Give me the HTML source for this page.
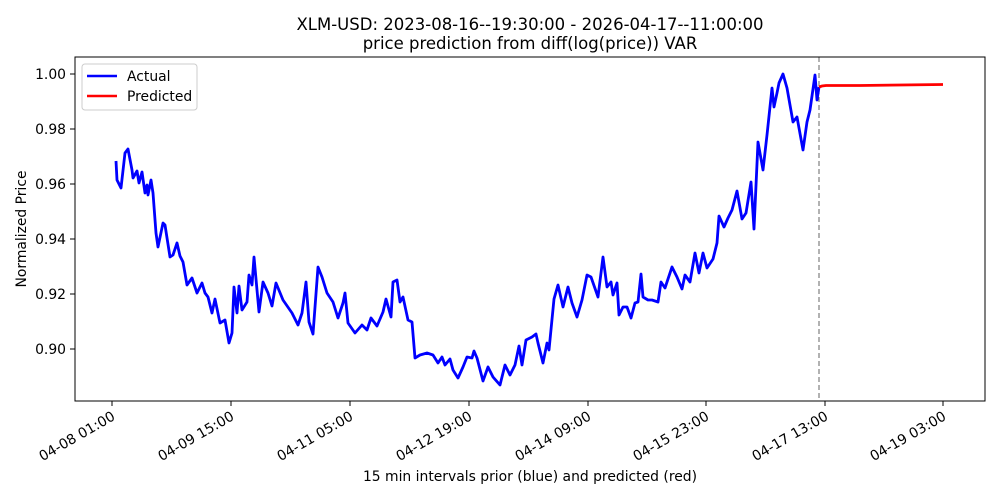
<!DOCTYPE html>
<html><head><meta charset="utf-8"><style>body{margin:0;background:#fff}svg{display:block}text{font-family:"DejaVu Sans","Liberation Sans",sans-serif;fill:#000}</style></head>
<body>
<svg width="1000" height="500" viewBox="0 0 1000 500" xmlns="http://www.w3.org/2000/svg">
<rect width="1000" height="500" fill="#fff"/>
<text x="530" y="30" font-size="16.5" text-anchor="middle">XLM-USD: 2023-08-16--19:30:00 - 2026-04-17--11:00:00</text>
<text x="530" y="49" font-size="16.5" text-anchor="middle">price prediction from diff(log(price)) VAR</text>
<g stroke="#000" stroke-width="1">
<line x1="70" y1="74" x2="75" y2="74"/><line x1="70" y1="129" x2="75" y2="129"/><line x1="70" y1="184" x2="75" y2="184"/><line x1="70" y1="239" x2="75" y2="239"/><line x1="70" y1="294" x2="75" y2="294"/><line x1="70" y1="349" x2="75" y2="349"/>
<line x1="112" y1="401" x2="112" y2="406"/><line x1="231" y1="401" x2="231" y2="406"/><line x1="350" y1="401" x2="350" y2="406"/><line x1="469" y1="401" x2="469" y2="406"/><line x1="588" y1="401" x2="588" y2="406"/><line x1="706" y1="401" x2="706" y2="406"/><line x1="825" y1="401" x2="825" y2="406"/><line x1="943" y1="401" x2="943" y2="406"/>
</g>
<g font-size="13.9" text-anchor="end">
<text x="66" y="79">1.00</text><text x="66" y="134">0.98</text><text x="66" y="189">0.96</text><text x="66" y="244">0.94</text><text x="66" y="299">0.92</text><text x="66" y="354">0.90</text>
</g>
<g font-size="13.9" text-anchor="end">
<text transform="translate(116,419) rotate(-30)">04-08 01:00</text>
<text transform="translate(235,419) rotate(-30)">04-09 15:00</text>
<text transform="translate(354,419) rotate(-30)">04-11 05:00</text>
<text transform="translate(473,419) rotate(-30)">04-12 19:00</text>
<text transform="translate(592,419) rotate(-30)">04-14 09:00</text>
<text transform="translate(710,419) rotate(-30)">04-15 23:00</text>
<text transform="translate(829,419) rotate(-30)">04-17 13:00</text>
<text transform="translate(947,419) rotate(-30)">04-19 03:00</text>
</g>
<text x="530" y="481" font-size="13.9" text-anchor="middle">15 min intervals prior (blue) and predicted (red)</text>
<text transform="translate(26,229) rotate(-90)" font-size="13.9" text-anchor="middle">Normalized Price</text>
<line x1="819" y1="57" x2="819" y2="401" stroke="#666" stroke-width="1" stroke-dasharray="5,3"/>
<polyline fill="none" stroke="#0000ff" stroke-width="2.8" stroke-linejoin="round" points="116,161 117,180 121,188 125,153 128,149 132,170 133,178 137,171 139,183 142,172 145,193 147,185 148,195 151,180 153,193 156,233 158,247 163,223 165,225 170,257 173,255 177,243 180,256 183,262 187,285 192,278 197,293 202,283 205,293 208,297 212,313 215,299 220,323 225,320 229,343 232,333 234,287 237,313 239,286 242,310 247,302 249,275 252,285 254,257 257,290 259,312 263,282 268,293 272,306 276,283 283,300 292,313 298,325 302,313 306,282 309,322 313,334 318,267 322,277 327,293 333,302 338,318 343,303 345,293 348,323 355,333 362,325 367,330 371,318 377,326 383,312 386,299 391,317 393,282 397,280 400,302 403,297 408,320 412,322 415,358 420,355 427,353 433,355 438,363 442,357 445,365 450,359 453,370 458,378 463,367 467,357 472,358 474,351 477,358 483,381 488,367 493,377 500,385 505,365 510,375 515,365 519,346 522,365 526,340 532,337 536,334 538,343 543,363 547,343 549,350 554,299 558,285 563,307 568,287 572,303 577,317 582,300 587,275 591,277 598,297 603,257 607,287 611,282 613,295 617,283 619,315 623,307 627,307 631,318 635,303 638,302 641,274 643,297 648,300 652,300 658,302 661,282 665,288 672,267 677,277 682,289 685,275 690,282 695,253 699,273 703,253 707,268 713,259 717,243 719,216 724,227 728,218 732,210 737,191 742,219 746,213 751,182 754,229 758,142 763,170 767,135 772,88 774,107 777,93 779,83 783,74 787,88 793,122 797,117 803,150 807,122 810,110 815,75 817,100 819,87"/>
<polyline fill="none" stroke="#ff0000" stroke-width="2.8" points="819,87 822,86 826,85.5 860,85.5 900,85 943,84.5"/>
<rect x="75" y="57" width="910" height="344" fill="none" stroke="#000" stroke-width="1"/>
<rect x="82" y="64" width="115" height="46" fill="#fff" stroke="#ccc" stroke-width="1" rx="3"/>
<line x1="87" y1="76" x2="117" y2="76" stroke="#0000ff" stroke-width="2.5"/>
<line x1="87" y1="96" x2="117" y2="96" stroke="#ff0000" stroke-width="2.5"/>
<text x="127" y="81" font-size="13.9">Actual</text>
<text x="127" y="101" font-size="13.9">Predicted</text>
</svg>
</body></html>
